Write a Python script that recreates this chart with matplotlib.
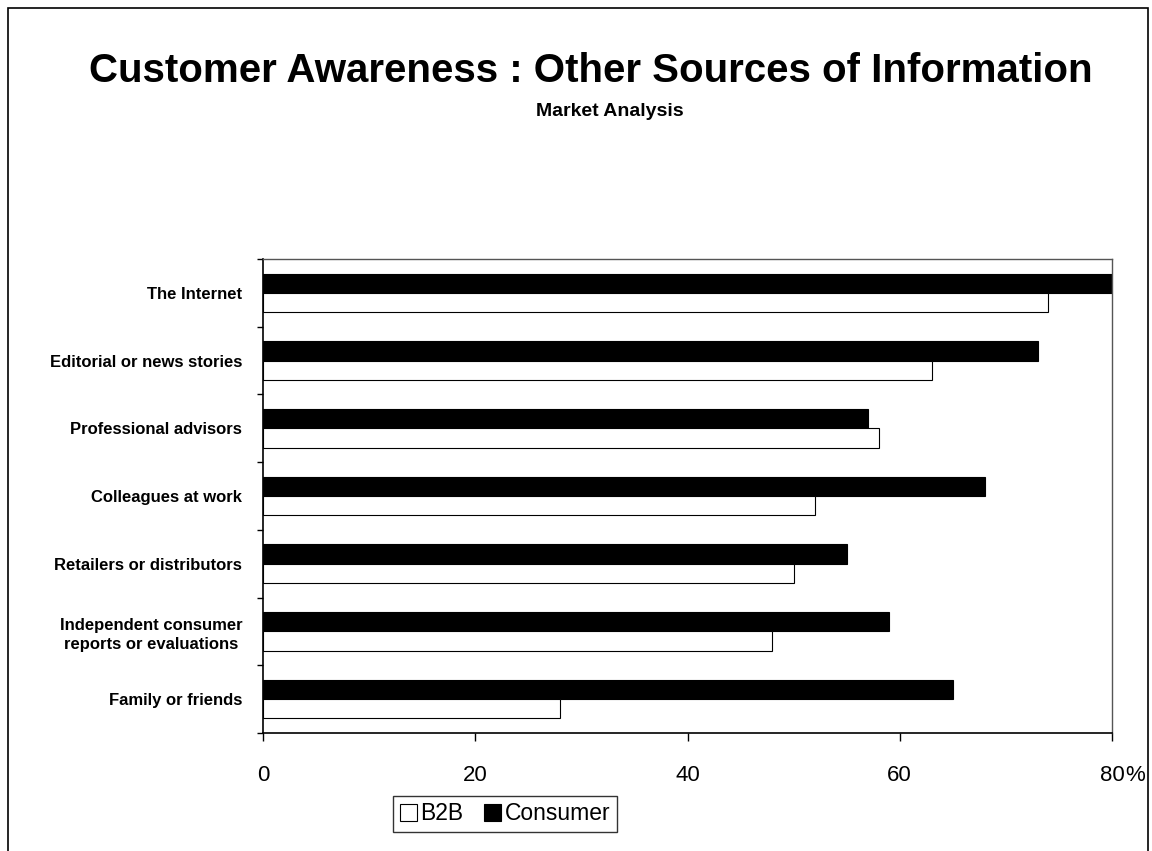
import numpy as np
import matplotlib
matplotlib.use("Agg")
import matplotlib.pyplot as plt
from matplotlib.patches import Rectangle

plt.rcParams['font.family'] = ['Liberation Sans', 'DejaVu Sans']

# --- dados ---
categorias = ["The Internet", "Editorial or news stories", "Professional advisors",
              "Colleagues at work", "Retailers or distributors",
              "Independent consumer\nreports or evaluations", "Family or friends"]
consumer = [80, 73, 57, 68, 55, 59, 65]
b2b = [74, 63, 58, 52, 50, 48, 28]
x_ticks = [0, 20, 40, 60, 80]

fig = plt.figure(figsize=(11.52, 8.51), dpi=100)
ax = fig.add_axes([263 / 1152, 1 - 733 / 851, (1112 - 263) / 1152, (733 - 259) / 851])

# moldura externa do gráfico
fig.patches.append(Rectangle((8 / 1152, -0.01), (1148 - 8) / 1152, 1 - 8 / 851 + 0.01,
                             transform=fig.transFigure, fill=False,
                             edgecolor='black', linewidth=1.2))

y = np.arange(len(categorias))
altura = 0.285
ax.barh(y - altura / 2, consumer, height=altura, color='black',
        edgecolor='black', linewidth=0.8, label='Consumer')
ax.barh(y + altura / 2, b2b, height=altura, color='white',
        edgecolor='black', linewidth=0.8, label='B2B')

ax.set_xlim(0, 80)
ax.set_ylim(len(categorias) - 0.5, -0.5)

# rótulos das categorias no centro, marcas nas divisões
ax.set_yticks(y)
ax.set_yticklabels(categorias, fontsize=12, fontweight='bold',
                   multialignment='center', linespacing=1.35)
ax.set_yticks(np.arange(-0.5, len(categorias)), minor=True)
ax.tick_params(axis='y', which='major', length=0, pad=15)
ax.tick_params(axis='y', which='minor', length=4, width=1)

ax.set_xticks(x_ticks)
ax.set_xticklabels([str(v) for v in x_ticks], fontsize=16)
ax.tick_params(axis='x', length=6, width=1, pad=17)
ax.annotate('%', xy=(80, 0), xycoords=('data', 'axes fraction'),
            xytext=(9.3, -23), textcoords='offset points',
            ha='left', va='top', fontsize=16)

for lado in ['left', 'bottom']:
    ax.spines[lado].set_linewidth(1.2)
for lado in ['top', 'right']:
    ax.spines[lado].set_color('#555555')
    ax.spines[lado].set_linewidth(1)

fig.text(591 / 1152, 1 - 71 / 851, 'Customer Awareness : Other Sources of Information',
         ha='center', va='center', fontsize=29, fontweight='bold')
fig.text(610 / 1152, 1 - 111 / 851, 'Market Analysis',
         ha='center', va='center', fontsize=14, fontweight='bold')

handles, labels = ax.get_legend_handles_labels()
leg = fig.legend(handles[::-1], labels[::-1], loc='center',
                 bbox_to_anchor=(505 / 1152, 1 - 814 / 851), ncol=2,
                 fontsize=16.5, frameon=True, fancybox=False, edgecolor='black',
                 handlelength=0.75, handleheight=0.75, handletextpad=0.15,
                 columnspacing=0.9, borderpad=0.3, borderaxespad=0)
leg.get_frame().set_linewidth(1)

fig.savefig('out.png', dpi=100)
